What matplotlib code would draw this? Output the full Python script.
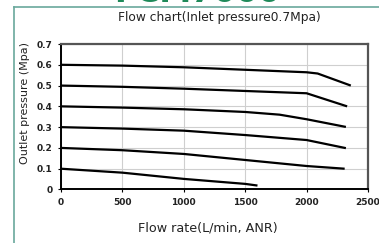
import matplotlib
matplotlib.use("Agg")
import matplotlib.pyplot as plt
from matplotlib.lines import Line2D

# flow rate (L/min, ANR) vs outlet pressure (MPa), one curve per set pressure
flow_06 = [0, 500, 1000, 1500, 2000, 2090, 2360]
pres_06 = [0.600, 0.596, 0.588, 0.576, 0.564, 0.558, 0.500]

flow_05 = [0, 500, 1000, 1500, 2000, 2330]
pres_05 = [0.500, 0.494, 0.485, 0.474, 0.463, 0.400]

flow_04 = [0, 500, 1000, 1500, 1780, 2000, 2320]
pres_04 = [0.400, 0.394, 0.386, 0.373, 0.360, 0.338, 0.301]

flow_03 = [0, 500, 1000, 1500, 2000, 2320]
pres_03 = [0.300, 0.293, 0.283, 0.262, 0.238, 0.199]

flow_02 = [0, 500, 1000, 1500, 2000, 2310]
pres_02 = [0.200, 0.189, 0.171, 0.142, 0.113, 0.100]

flow_01 = [0, 500, 1000, 1500, 1600]
pres_01 = [0.100, 0.081, 0.051, 0.027, 0.019]

curves = [(flow_06, pres_06), (flow_05, pres_05), (flow_04, pres_04),
          (flow_03, pres_03), (flow_02, pres_02), (flow_01, pres_01)]

xticks = [0, 500, 1000, 1500, 2000, 2500]
yticks = [0, 0.1, 0.2, 0.3, 0.4, 0.5, 0.6, 0.7]
ylabels = ["0", "0.1", "0.2", "0.3", "0.4", "0.5", "0.6", "0.7"]

fig = plt.figure(figsize=(3.79, 2.43), dpi=100)
ax = fig.add_axes([61 / 379, 1 - 189.5 / 243, 307 / 379, 145.5 / 243])

for fx, py in curves:
    ax.plot(fx, py, color="black", lw=1.6, solid_capstyle="butt")

ax.set_xlim(0, 2500)
ax.set_ylim(0, 0.7)
ax.set_xticks(xticks)
ax.set_yticks(yticks)
ax.set_yticklabels(ylabels)
ax.grid(True, color="#cfcfcf", lw=0.8)
ax.set_axisbelow(True)
ax.tick_params(axis="both", labelsize=6.5, length=2, width=0.8, pad=4)
for lab in ax.get_xticklabels() + ax.get_yticklabels():
    lab.set_fontweight("bold")
    lab.set_color("#222222")

for side in ["top", "right"]:
    ax.spines[side].set_color("#555555")
    ax.spines[side].set_linewidth(1.6)
for side in ["left", "bottom"]:
    ax.spines[side].set_color("black")
    ax.spines[side].set_linewidth(1.4)

fig.text(219 / 379, 1 - 18 / 243, "Flow chart(Inlet pressure0.7Mpa)",
         ha="center", va="center", fontsize=8.8, color="#222222")
fig.text(208 / 379, 1 - 228 / 243, "Flow rate(L/min, ANR)",
         ha="center", va="center", fontsize=9.2, color="#222222")
fig.text(25 / 379, 1 - 103 / 243, "Outlet pressure (Mpa)", rotation=90,
         ha="center", va="center", fontsize=8, color="#222222")

# green frame of the product sheet
fig.add_artist(Line2D([13.5 / 379, 13.5 / 379], [0, 1 - 7 / 243],
                      transform=fig.transFigure, color="#6aa89c", lw=1.2))
fig.add_artist(Line2D([13.5 / 379, 1], [1 - 7 / 243, 1 - 7 / 243],
                      transform=fig.transFigure, color="#6aa89c", lw=1.2))
# cut-off heading at the top
fig.text(197 / 379, 1 - 2.5 / 243, "FCM7000", ha="center", va="baseline",
         fontsize=23, fontweight="bold", color="#1f8a5a")

fig.savefig("out.png", dpi=100)
